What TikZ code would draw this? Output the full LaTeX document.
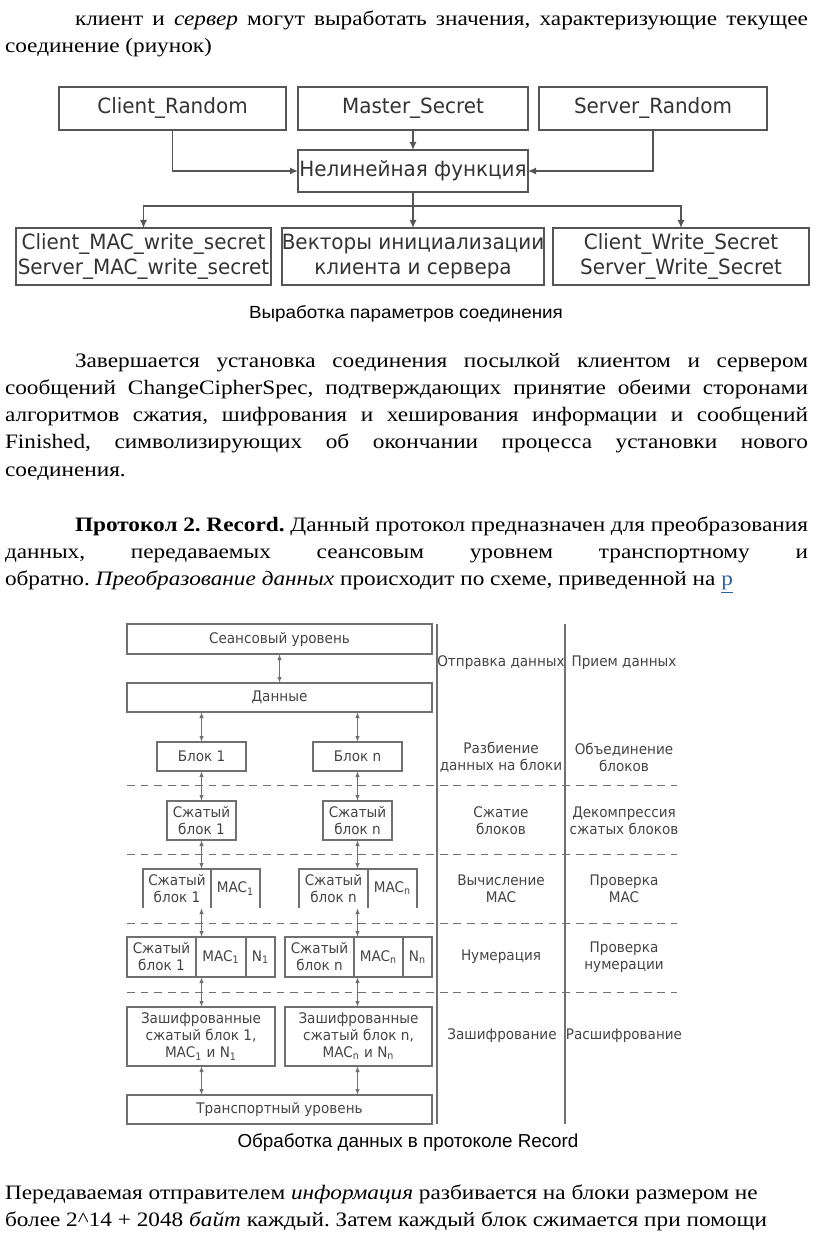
\documentclass[tikz,border=0pt]{standalone}
\usepackage{fontspec}
\setmainfont[FakeStretch=1.135]{Liberation Serif}
\newfontfamily\dvs[FakeStretch=0.95]{DejaVu Sans}
\newfontfamily\dvr[FakeStretch=0.93]{DejaVu Sans}
\newfontfamily\lsans{Liberation Sans}
\newfontfamily\lsansw[FakeStretch=1.07]{Liberation Sans}
\usetikzlibrary{arrows.meta}
\frenchspacing
\definecolor{tline}{HTML}{555555}
\definecolor{rline}{HTML}{707070}
\definecolor{ttext}{HTML}{333333}
\definecolor{rtext}{HTML}{444444}
\definecolor{linkblue}{HTML}{2E5FA8}
\tikzset{
  sz/.style 2 args={minimum width=#1*0.5pt, minimum height=#2*0.5pt},
  txt/.style={anchor=base west, inner sep=0pt, outer sep=0pt, font=\fontsize{10.25}{13.5}\selectfont\frenchspacing},
  captxt/.style={anchor=base, inner sep=0pt, outer sep=0pt, font=\lsans\fontsize{9.4}{11}\selectfont},
  tbox/.style={draw=tline, line width=0.75pt, inner sep=0pt, outer sep=0pt, text=ttext, align=center,
    font=\dvs\fontsize{10.5}{12.5}\selectfont},
  rbox/.style={draw=rline, line width=0.55pt, inner sep=0pt, outer sep=0pt, text=rtext, align=center,
    font=\dvr\fontsize{7.3}{8.5}\selectfont},
  rcell/.style={inner sep=0pt, outer sep=0pt, text=rtext, align=center,
    font=\dvr\fontsize{7.3}{8.5}\selectfont},
  lab/.style={inner sep=0pt, outer sep=0pt, text=rtext, align=center,
    font=\dvr\fontsize{7.3}{8.5}\selectfont},
  tarr/.style={draw=tline, line width=0.75pt, -{Latex[length=4pt,width=3.6pt]}},
  tln/.style={draw=tline, line width=0.75pt},
  darr/.style={draw=rline, line width=0.5pt, {Latex[length=3pt,width=2.2pt]}-{Latex[length=3pt,width=2.2pt]}},
  rl/.style={draw=rline, line width=0.55pt},
  dsh/.style={draw=rline, line width=0.5pt, dash pattern=on 3.9pt off 2.9pt},
}
\begin{document}
\begin{tikzpicture}[x=0.5pt,y=-0.5pt]
\useasboundingbox (0,0) rectangle (816,1234);

% ---------- text at top ----------
\node[txt] (l1) at (75,26) {\makebox[366.5pt][s]{клиент и \textit{сервер} могут выработать значения, характеризующие текущее}};
\node[txt] (l2) at (5,53) {соединение (риунок)};

% ---------- diagram 1 ----------
\node[tbox, sz={227}{43}] (cr) at (172.5,108.5) {Client\_Random};
\node[tbox, sz={230}{43}] (ms) at (413,108.5) {Master\_Secret};
\node[tbox, sz={228}{43}] (sr) at (653,108.5) {Server\_Random};
\node[tbox, sz={230}{42}] (nf) at (413,171) {Нелинейная функция};
\node[tbox, sz={255}{57}] (b1) at (143.5,256.5) {Client\_MAC\_write\_secret\\Server\_MAC\_write\_secret};
\node[tbox, sz={256}{57}] (b2) at (413,256.5) {Векторы инициализации\\клиента и сервера};
\node[tbox, sz={256}{57}] (b3) at (681,256.5) {Client\_Write\_Secret\\Server\_Write\_Secret};
\coordinate (j) at (413,206);
\draw[tarr] (cr.south) |- (nf.west);
\draw[tarr] (ms.south) -- (nf.north);
\draw[tarr] (sr.south) |- (nf.east);
\draw[tln] (nf.south) -- (j);
\draw[tarr] (j) -| (b1.north);
\draw[tarr] (j) -- (b2.north);
\draw[tarr] (j) -| (b3.north);

\node[captxt, font=\lsansw\fontsize{8.8}{11}\selectfont] (c1) at (406,319) {Выработка параметров соединения};

% ---------- paragraph 2 ----------
\node[txt] (p21) at (75,368) {\makebox[366.5pt][s]{Завершается установка соединения посылкой клиентом и сервером}};
\node[txt] (p22) at (5,395) {\makebox[401.5pt][s]{сообщений ChangeCipherSpec, подтверждающих принятие обеими сторонами}};
\node[txt] (p23) at (5,422) {\makebox[401.5pt][s]{алгоритмов сжатия, шифрования и хеширования информации и сообщений}};
\node[txt] (p24) at (5,449) {\makebox[401.5pt][s]{Finished, символизирующих об окончании процесса установки нового}};
\node[txt] (p25) at (5,476) {соединения.};

% ---------- paragraph 3 ----------
\node[txt] (p31) at (75,531) {\makebox[366.5pt][s]{\textbf{Протокол 2. Record.} Данный протокол предназначен для преобразования}};
\node[txt] (p32) at (5,558) {\makebox[401.5pt][s]{данных, передаваемых сеансовым уровнем транспортному и}};
\node[txt] (p33) at (5,585) {обратно. \textit{Преобразование данных} происходит по схеме, приведенной на {\color{linkblue}\underline{р}}};

% ---------- diagram 2 ----------
\draw[rl] (437,624) -- (437,1124);
\draw[rl] (565,624) -- (565,1124);
\foreach \yy in {785,854,923,992} \draw[dsh] (127,\yy) -- (677,\yy);

\node[rbox, sz={305}{30}] (s) at (279.5,639) {Сеансовый уровень};
\node[rbox, sz={305}{29}] (d) at (279.5,697.5) {Данные};
\node[rbox, sz={89}{29}] (k1) at (201.5,756.5) {Блок 1};
\node[rbox, sz={89}{29}] (kn) at (357.5,756.5) {Блок n};
\node[rbox, sz={69}{39}] (z1) at (201.5,820.5) {Сжатый\\блок 1};
\node[rbox, sz={69}{39}] (zn) at (357.5,820.5) {Сжатый\\блок n};

\node[rcell, sz={68}{39}] (m1a) at (177,888.5) {Сжатый\\блок 1};
\node[rcell, sz={49}{39}] (m1b) at (235.5,888.5) {MAC\textsubscript{1}};
\node[rcell, sz={69}{39}] (mna) at (333.5,888.5) {Сжатый\\блок n};
\node[rcell, sz={49}{39}] (mnb) at (392.5,888.5) {MAC\textsubscript{n}};
\draw[rl] (m1a.south west) -- (m1a.north west) -- (m1b.north east) -- (m1b.south east);
\draw[rl] (m1a.north east) -- (m1a.south east);
\draw[rl] (mna.south west) -- (mna.north west) -- (mnb.north east) -- (mnb.south east);
\draw[rl] (mna.north east) -- (mna.south east);

\node[rbox, sz={69}{40}] (n1a) at (161.5,957) {Сжатый\\блок 1};
\node[rbox, sz={50}{40}] (n1b) at (221,957) {MAC\textsubscript{1}};
\node[rbox, sz={29}{40}] (n1c) at (260.5,957) {N\textsubscript{1}};
\node[rbox, sz={69}{40}] (nna) at (319.5,957) {Сжатый\\блок n};
\node[rbox, sz={49}{40}] (nnb) at (378.5,957) {MAC\textsubscript{n}};
\node[rbox, sz={29}{40}] (nnc) at (417.5,957) {N\textsubscript{n}};

\node[rbox, sz={148}{59}] (e1) at (201,1036.5) {Зашифрованные\\сжатый блок 1,\\MAC\textsubscript{1} и N\textsubscript{1}};
\node[rbox, sz={147}{59}] (en) at (358.5,1036.5) {Зашифрованные\\сжатый блок n,\\MAC\textsubscript{n} и N\textsubscript{n}};
\node[rbox, sz={305}{29}] (t) at (279.5,1109.5) {Транспортный уровень};

\draw[darr] (s.south) -- (d.north);
\draw[darr] (d.south -| k1.north) -- (k1.north);
\draw[darr] (d.south -| kn.north) -- (kn.north);
\draw[darr] (k1.south) -- (z1.north);
\draw[darr] (kn.south) -- (zn.north);
\draw[darr] (z1.south) -- (z1.south |- m1a.north);
\draw[darr] (zn.south) -- (zn.south |- mna.north);
\draw[darr] (m1a.south -| z1.south) -- (n1b.north -| z1.south);
\draw[darr] (mna.south -| zn.south) -- (nna.north -| zn.south);
\draw[darr] (n1b.south -| z1.south) -- (e1.north -| z1.south);
\draw[darr] (nna.south -| zn.south) -- (en.north -| zn.south);
\draw[darr] (e1.south -| z1.south) -- (t.north -| z1.south);
\draw[darr] (en.south -| zn.south) -- (t.north -| zn.south);

\node[lab] (a1) at (501,663) {Отправка данных};
\node[lab] (r1) at (624,663) {Прием данных};
\node[lab] (a2) at (501,757) {Разбиение\\данных на блоки};
\node[lab] (r2) at (624,757) {Объединение\\блоков};
\node[lab] (a3) at (501,821) {Сжатие\\блоков};
\node[lab] (r3) at (624,821) {Декомпрессия\\сжатых блоков};
\node[lab] (a4) at (501,889) {Вычисление\\MAC};
\node[lab] (r4) at (624,889) {Проверка\\MAC};
\node[lab] (a5) at (501,957) {Нумерация};
\node[lab] (r5) at (624,957) {Проверка\\нумерации};
\node[lab] (a6) at (502,1036) {Зашифрование};
\node[lab] (r6) at (624,1036) {Расшифрование};

\node[captxt] (c2) at (408,1147) {Обработка данных в протоколе Record};

% ---------- paragraph 4 ----------
\node[txt] (p41) at (5,1199) {Передаваемая отправителем \textit{информация} разбивается на блоки размером не};
\node[txt] (p42) at (5,1226) {более 2\textasciicircum14 + 2048 \textit{байт} каждый. Затем каждый блок сжимается при помощи};
\end{tikzpicture}
\end{document}
